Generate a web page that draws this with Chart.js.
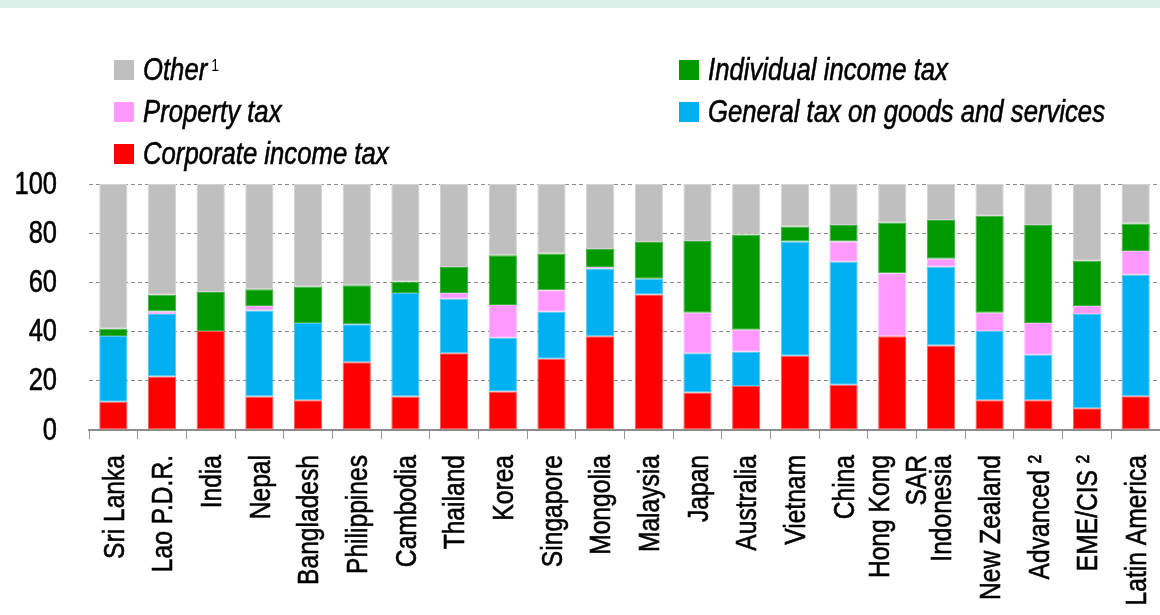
<!DOCTYPE html>
<html>
<head>
<meta charset="utf-8">
<script src="https://cdn.jsdelivr.net/npm/chart.js@4/dist/chart.umd.min.js"></script>
<style>
  html, body { margin: 0; padding: 0; background: #ffffff; }
  #wrap { position: relative; width: 1160px; height: 615px; }
  canvas { display: block; }
</style>
</head>
<body>
<div id="wrap"><canvas id="c" width="1160" height="615"></canvas></div>
<script>
// ---- Data (percent of total tax revenue) ----
const categories = ["Sri Lanka","Lao P.D.R.","India","Nepal","Bangladesh","Philippines","Cambodia","Thailand","Korea","Singapore","Mongolia","Malaysia","Japan","Australia","Vietnam","China",["Hong Kong","SAR"],"Indonesia","New Zealand","Advanced \u00B2","EME/CIS \u00B2","Latin America"];

const corporateIncomeTax = [11.5,21.7,40.2,13.6,12.1,27.5,13.6,31.2,15.7,29.0,38.1,55.1,15.2,17.9,30.2,18.4,38.1,34.4,12.1,12.1,8.8,13.7];
const generalTaxGoodsServices = [26.7,25.5,0,35.0,31.4,15.5,42.1,22.2,21.8,19.1,27.5,6.4,16.0,13.9,46.4,50.0,0,32.0,28.1,18.5,38.4,49.4];
const propertyTax = [0,1.0,0,1.8,0,0,0,2.3,13.3,8.7,0.7,0,16.5,9.0,0,8.2,25.6,3.2,7.5,12.9,3.2,9.7];
const individualIncomeTax = [3.0,6.8,15.9,6.8,14.8,15.8,4.6,10.6,20.2,14.9,7.3,14.9,29.1,38.7,6.1,6.7,20.6,15.8,39.4,39.8,18.4,11.1];
const otherTax = [58.8,45.0,43.9,42.8,41.7,41.2,39.7,33.7,29.0,28.3,26.4,23.6,23.2,20.5,17.3,16.7,15.7,14.6,12.9,16.7,31.2,16.1];

const yTicks = [0,20,40,60,80,100];

const seriesNames = ["Corporate income tax","General tax on goods and services","Property tax","Individual income tax","Other"];
const seriesColors = ["#ff0000","#00b0f0","#ff99ff","#009900","#bfbfbf"];
const seriesBorders = ["#ff5a5a","#4cc8f4","#ffb8ff","#3daf3d","#d2d2d2"];

const FONT = "'Liberation Sans', Arial, sans-serif";
const NARROW = 0.82; // horizontal compression to mimic a narrow face

const seriesData = [corporateIncomeTax, generalTaxGoodsServices, propertyTax, individualIncomeTax, otherTax];

function narrowText(ctx, text, x, y, align, sx, heavy) {
  ctx.save();
  ctx.translate(x, y);
  ctx.scale(sx, 1);
  ctx.textAlign = align;
  ctx.fillText(text, 0, 0);
  if (heavy) {
    ctx.lineWidth = heavy;
    ctx.strokeStyle = ctx.fillStyle;
    ctx.strokeText(text, 0, 0);
  }
  ctx.restore();
}

// ---- plugins ----
const bandPlugin = {
  id: 'band',
  beforeDraw(chart) {
    const ctx = chart.ctx;
    ctx.save();
    ctx.fillStyle = '#d9efe7';
    ctx.fillRect(0, 0, chart.width, 8);
    ctx.restore();
  }
};

const axisLabelPlugin = {
  id: 'axisLabels',
  afterDraw(chart) {
    const ctx = chart.ctx;
    const xs = chart.scales.x, ys = chart.scales.y;
    ctx.save();
    ctx.fillStyle = '#000';
    ctx.textBaseline = 'middle';
    // y tick labels
    ctx.font = "31px " + FONT;
    yTicks.forEach(v => {
      narrowText(ctx, String(v), 57, ys.getPixelForValue(v) + 1, 'right', NARROW, 0.6);
    });
    // x tick labels (rotated, reading bottom to top)
    ctx.font = "30px " + FONT;
    categories.forEach((lab, i) => {
      const cx = xs.getPixelForTick(i);
      const lines = Array.isArray(lab) ? lab : [lab];
      const offsets = lines.length === 2 ? [-12, 25] : [2];
      lines.forEach((ln, k) => {
        ctx.save();
        ctx.translate(cx + offsets[k], 455);
        ctx.rotate(-Math.PI / 2);
        ctx.scale(NARROW, 1);
        ctx.textAlign = 'right';
        ctx.fillText(ln, 0, 0);
        ctx.lineWidth = 0.6;
        ctx.strokeStyle = '#000';
        ctx.strokeText(ln, 0, 0);
        ctx.restore();
      });
    });
    ctx.restore();
  }
};

const legendPlugin = {
  id: 'customLegend',
  afterDraw(chart) {
    const ctx = chart.ctx;
    ctx.save();
    ctx.textBaseline = 'middle';
    ctx.font = "italic 32px " + FONT;
    const ref = ctx.measureText("General tax on goods and services").width;
    const sx = 397 / ref;
    // items: [seriesIndex, boxX, textX, centerY, superscript]
    const items = [
      [4, 114, 143, 70, "1"],
      [2, 114, 143, 112, null],
      [0, 114, 143, 154, null],
      [3, 679, 708, 70, null],
      [1, 679, 708, 112, null]
    ];
    items.forEach(([si, bx, tx, cy, sup]) => {
      ctx.fillStyle = seriesColors[si];
      ctx.fillRect(bx, cy - 10, 20, 20);
      ctx.fillStyle = '#000';
      ctx.font = "italic 32px " + FONT;
      const w = ctx.measureText(seriesNames[si]).width * sx;
      narrowText(ctx, seriesNames[si], tx, cy + 1, 'left', sx, 0.6);
      if (sup) {
        ctx.font = "17px " + FONT;
        narrowText(ctx, sup, tx + w + 4, cy - 4, 'left', NARROW, 0);
      }
    });
    ctx.restore();
  }
};

const datasets = seriesNames.map((name, i) => ({
  label: name,
  data: seriesData[i],
  backgroundColor: seriesColors[i],
  borderColor: seriesBorders[i],
  borderWidth: 1,
  borderSkipped: false,
  barPercentage: 0.58,
  categoryPercentage: 1.0
}));

new Chart(document.getElementById('c'), {
  type: 'bar',
  data: { labels: categories, datasets },
  plugins: [bandPlugin, legendPlugin, axisLabelPlugin],
  options: {
    responsive: false,
    animation: false,
    devicePixelRatio: 1,
    layout: { padding: { top: 184, left: 0, right: 0, bottom: 0 } },
    plugins: { legend: { display: false }, tooltip: { enabled: false } },
    scales: {
      x: {
        stacked: true,
        offset: true,
        grid: { display: true, drawOnChartArea: false, drawTicks: true, tickLength: 9, color: '#9a9a9a', lineWidth: 1, offset: true },
        border: { display: true, color: '#8c8c8c', width: 2 },
        ticks: { display: false, autoSkip: false },
        afterFit(scale) { scale.height = 185; }
      },
      y: {
        stacked: true,
        min: 0, max: 100,
        afterBuildTicks(scale) { scale.ticks = yTicks.map(v => ({ value: v })); },
        grid: {
          drawTicks: false,
          color: ctx => (ctx.tick && ctx.tick.value === 0) ? 'rgba(0,0,0,0)' : '#8a8a8a',
          lineWidth: 1
        },
        border: { display: false, dash: [4, 3] },
        ticks: { display: false },
        afterFit(scale) { scale.width = 89; }
      }
    }
  }
});
</script>
</body>
</html>
